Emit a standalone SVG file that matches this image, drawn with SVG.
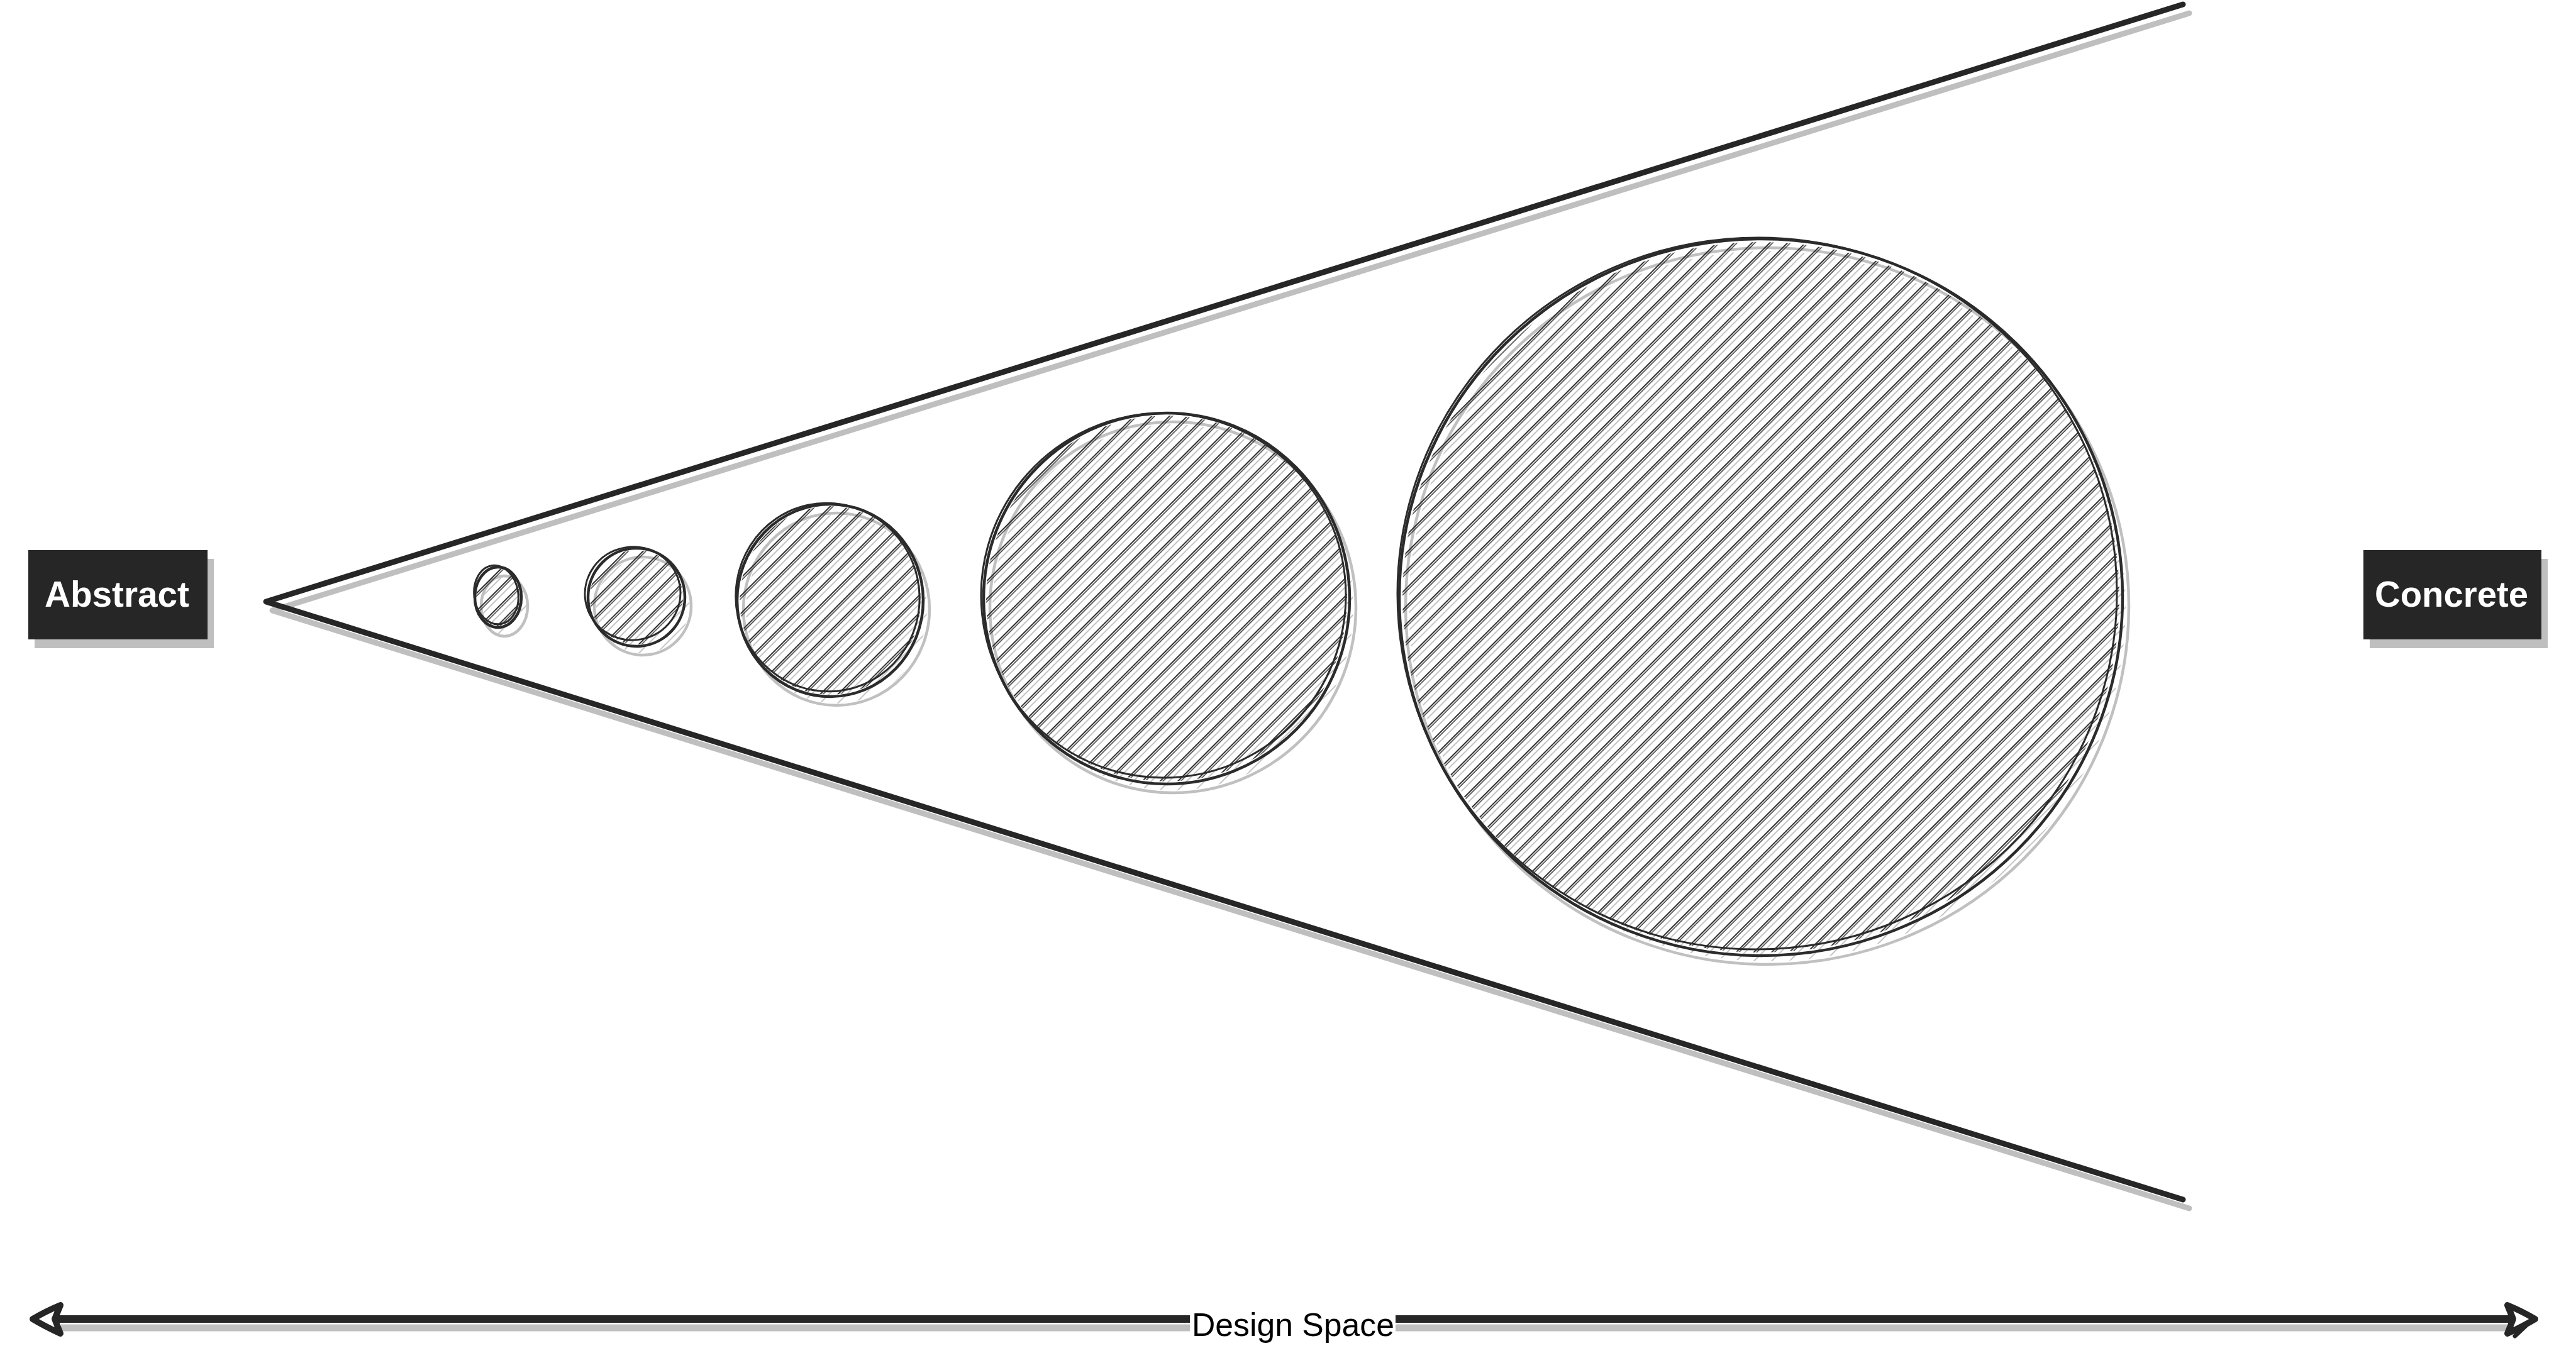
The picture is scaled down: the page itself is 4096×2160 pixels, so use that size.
<svg xmlns="http://www.w3.org/2000/svg" width="4096" height="2160" viewBox="0 0 4096 2160">
<style>
.wedge{fill:none;stroke:#262626;stroke-width:9;stroke-linecap:round;stroke-linejoin:round}
.wedge-sh{fill:none;stroke:#bfbfbf;stroke-width:9;stroke-linecap:round;stroke-linejoin:round}
.box{fill:#262626}
.box-sh{fill:#bfbfbf}
.lbl{font-family:"Liberation Sans",Arial,Helvetica,sans-serif;font-weight:bold;font-size:58px;fill:#ffffff}
.out{fill:none;stroke:#2b2b2b;stroke-width:4.5;stroke-linecap:round}
.out2{fill:none;stroke:#2b2b2b;stroke-width:3;stroke-linecap:round}
.out-sh{fill:none;stroke:#c0c0c0;stroke-width:4.5}
.hfill{fill:url(#hatch);stroke:none}
.hfill-sh{fill:url(#hatchSh);stroke:none}
.axis{fill:none;stroke:#262626;stroke-width:12;stroke-linecap:butt}
.axis-sh{fill:none;stroke:#bfbfbf;stroke-width:11}
.head{fill:#ffffff;stroke:#262626;stroke-width:10;stroke-linejoin:round;stroke-linecap:round}
.axlbl{font-family:"Liberation Sans",Arial,Helvetica,sans-serif;font-size:52px;fill:#000000}
</style>
<defs>
<pattern id="hatch" patternUnits="userSpaceOnUse" width="20" height="20" patternTransform="rotate(45)">
<line x1="3" y1="-1" x2="3" y2="21" stroke="#262626" stroke-width="1.9"/>
<line x1="6.2" y1="-1" x2="6.2" y2="21" stroke="#262626" stroke-width="1.4"/>
</pattern>
<pattern id="hatchSh" patternUnits="userSpaceOnUse" width="20" height="20" patternTransform="rotate(45)">
<line x1="16" y1="-1" x2="16" y2="21" stroke="#c2c2c2" stroke-width="1.9"/>
</pattern>
</defs>
<rect width="4096" height="2160" fill="#ffffff"/>

<g id="connectors">
<g id="wedge">
<path class="wedge-sh" transform="translate(10,14)" d="M3471,7 L423,957 L3471,1908"/>
<path class="wedge" d="M3471,7 L423,957 L3471,1908"/>
</g>
<g id="design-space-axis">
<line class="axis-sh" x1="97" y1="2112" x2="3986" y2="2112"/>
<line class="axis" x1="80" y1="2098" x2="4000" y2="2098"/>
<path class="head" d="M96,2076 Q72,2086 52,2098 Q72,2110 96,2121 L87,2098 Z"/>
<path class="head" d="M3987,2076 Q4011,2086 4031,2098 Q4011,2110 3987,2121 L3996,2098 Z"/>
<path fill="none" stroke="#262626" stroke-width="7" stroke-linecap="round" d="M3999,2125 L4016,2109"/>
<rect x="1892" y="2066" width="327" height="70" fill="#ffffff"/>
<text class="axlbl" x="2056" y="2125" text-anchor="middle" textLength="322" lengthAdjust="spacingAndGlyphs">Design Space</text>
</g>
</g>

<g id="abstract">
<rect class="box-sh" x="55" y="889" width="285" height="142"/>
<rect class="box" x="45" y="875" width="285" height="142"/>
<text class="lbl" x="186" y="965" text-anchor="middle" textLength="230" lengthAdjust="spacingAndGlyphs">Abstract</text>
</g>

<g id="concrete">
<rect class="box-sh" x="3768" y="889" width="283" height="142"/>
<rect class="box" x="3758" y="875" width="283" height="142"/>
<text class="lbl" x="3898" y="965" text-anchor="middle" textLength="244" lengthAdjust="spacingAndGlyphs">Concrete</text>
</g>

<g id="circle-1">
<g transform="translate(10,14)">
<ellipse class="hfill-sh" cx="792" cy="950" rx="35" ry="46"/>
<ellipse class="out-sh" cx="792" cy="950" rx="37" ry="48"/>
</g>
<ellipse class="hfill" cx="792" cy="950" rx="35" ry="46"/>
<ellipse class="out" cx="792" cy="950" rx="37" ry="48"/>
<ellipse class="out2" cx="789" cy="946" rx="35" ry="47" transform="rotate(-8 789 946)"/>
</g>

<g id="circle-2">
<g transform="translate(10,14)">
<ellipse class="hfill-sh" cx="1012" cy="950" rx="74" ry="75"/>
<ellipse class="out-sh" cx="1012" cy="950" rx="77" ry="78"/>
</g>
<ellipse class="hfill" cx="1012" cy="950" rx="74" ry="75"/>
<ellipse class="out" cx="1012" cy="950" rx="77" ry="78"/>
<ellipse class="out2" cx="1006" cy="944" rx="76" ry="74" transform="rotate(-10 1006 944)"/>
</g>

<g id="circle-3">
<g transform="translate(10,14)">
<ellipse class="hfill-sh" cx="1320" cy="955" rx="144" ry="150"/>
<ellipse class="out-sh" cx="1320" cy="955" rx="148" ry="153"/>
</g>
<ellipse class="hfill" cx="1320" cy="955" rx="144" ry="150"/>
<ellipse class="out" cx="1320" cy="955" rx="148" ry="153"/>
<ellipse class="out2" cx="1316" cy="950" rx="146" ry="150" transform="rotate(-12 1316 950)"/>
</g>

<g id="circle-4">
<g transform="translate(10,14)">
<ellipse class="hfill-sh" cx="1855" cy="952" rx="287" ry="291"/>
<ellipse class="out-sh" cx="1855" cy="952" rx="291" ry="295"/>
</g>
<ellipse class="hfill" cx="1855" cy="952" rx="287" ry="291"/>
<ellipse class="out" cx="1855" cy="952" rx="291" ry="295"/>
<ellipse class="out2" cx="1850" cy="947" rx="290" ry="290" transform="rotate(-6 1850 947)"/>
</g>

<g id="circle-5">
<g transform="translate(10,14)">
<ellipse class="hfill-sh" cx="2800" cy="950" rx="570" ry="565"/>
<ellipse class="out-sh" cx="2800" cy="950" rx="575" ry="570"/>
</g>
<ellipse class="hfill" cx="2800" cy="950" rx="570" ry="565"/>
<ellipse class="out" cx="2800" cy="950" rx="575" ry="570"/>
<ellipse class="out2" cx="2794" cy="944" rx="572" ry="566" transform="rotate(-5 2794 944)"/>
</g>
</svg>
